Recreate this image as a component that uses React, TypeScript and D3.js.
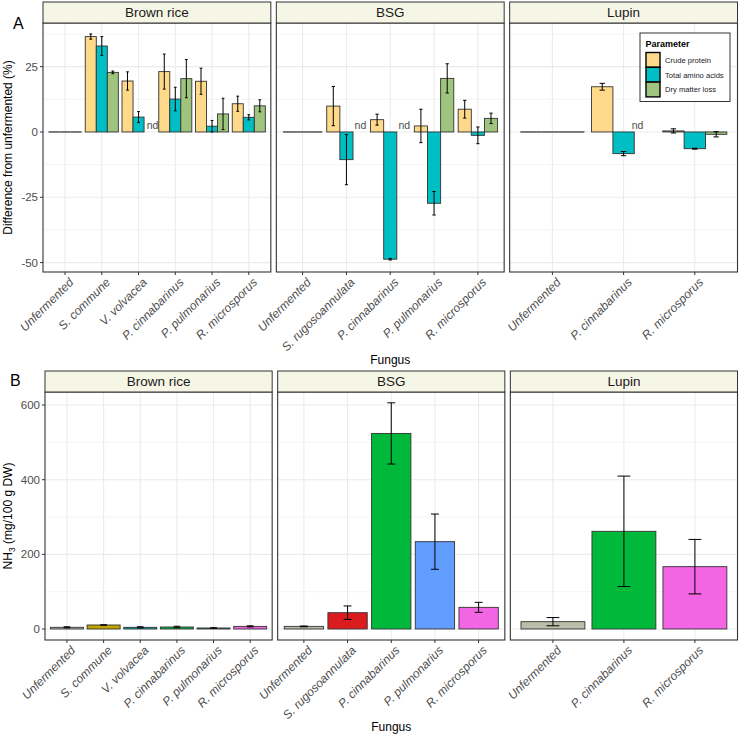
import React from "react";
import * as d3 from "d3";

// ---- Data ----
const substrates = ["Brown rice", "BSG", "Lupin"];
const parameters = ["Crude protein", "Total amino acids", "Dry matter loss"];
const parameterColors = ["#FFD98A", "#00BFC4", "#9EC47E"];

const brownRiceFungi = ["Unfermented", "S. commune", "V. volvacea", "P. cinnabarinus", "P. pulmonarius", "R. microsporus"];
const bsgFungi = ["Unfermented", "S. rugosoannulata", "P. cinnabarinus", "P. pulmonarius", "R. microsporus"];
const lupinFungi = ["Unfermented", "P. cinnabarinus", "R. microsporus"];

// Difference from unfermented (%), null = not determined
const brownRiceCrudeProtein = [0, 36.5, 19.5, 23.1, 19.4, 10.8];
const brownRiceCrudeProteinSd = [0, 1.0, 3.5, 6.7, 5.0, 2.9];
const brownRiceAminoAcids = [0, 32.9, 5.7, 12.6, 2.2, 5.6];
const brownRiceAminoAcidsSd = [0, 3.6, 2.1, 4.5, 2.2, 1.0];
const brownRiceDryMatterLoss = [0, 22.8, null, 20.4, 6.9, 10.0];
const brownRiceDryMatterLossSd = [0, 0.5, null, 7.3, 6.0, 2.3];

const bsgCrudeProtein = [0, 9.9, 4.7, 2.3, 8.7];
const bsgCrudeProteinSd = [0, 7.5, 2.1, 6.4, 3.4];
const bsgAminoAcids = [0, -10.6, -48.7, -27.3, -1.3];
const bsgAminoAcidsSd = [0, 9.6, 0.3, 4.5, 3.2];
const bsgDryMatterLoss = [0, null, null, 20.5, 5.2];
const bsgDryMatterLossSd = [0, null, null, 5.6, 2.0];

const lupinCrudeProtein = [0, 17.3, 0.4];
const lupinCrudeProteinSd = [0, 1.3, 0.8];
const lupinAminoAcids = [0, -8.3, -6.4];
const lupinAminoAcidsSd = [0, 0.8, 0.2];
const lupinDryMatterLoss = [0, null, -0.9];
const lupinDryMatterLossSd = [0, null, 1.0];

// NH3 (mg/100 g DW)
const brownRiceNH3 = [4.5, 10.7, 4.5, 5.3, 2.7, 7.0];
const brownRiceNH3Sd = [1.5, 0.5, 1.5, 2.0, 0.5, 1.5];
const bsgNH3 = [7, 43.7, 524, 234, 58];
const bsgNH3Sd = [1, 18, 82, 74, 13.4];
const lupinNH3 = [19.6, 261.7, 167];
const lupinNH3Sd = [11, 148, 73];

const fungusColors: Record<string, string> = {
  "Unfermented": "#BBBDA8",
  "S. commune": "#C2A500",
  "V. volvacea": "#00A6B4",
  "P. cinnabarinus": "#00B93A",
  "P. pulmonarius": "#619CFF",
  "R. microsporus": "#F266E3",
  "S. rugosoannulata": "#DA1C1F",
};

const yTicksA = [-50, -25, 0, 25];
const yMinorA = [-37.5, -12.5, 12.5, 37.5];
const yTicksB = [0, 200, 400, 600];
const yMinorB = [100, 300, 500];

type Facet = {
  name: string;
  fungi: string[];
  series: (number | null)[][];
  sds: (number | null)[][];
  nh3: number[];
  nh3Sd: number[];
};

const facets: Facet[] = [
  {
    name: substrates[0],
    fungi: brownRiceFungi,
    series: [brownRiceCrudeProtein, brownRiceAminoAcids, brownRiceDryMatterLoss],
    sds: [brownRiceCrudeProteinSd, brownRiceAminoAcidsSd, brownRiceDryMatterLossSd],
    nh3: brownRiceNH3,
    nh3Sd: brownRiceNH3Sd,
  },
  {
    name: substrates[1],
    fungi: bsgFungi,
    series: [bsgCrudeProtein, bsgAminoAcids, bsgDryMatterLoss],
    sds: [bsgCrudeProteinSd, bsgAminoAcidsSd, bsgDryMatterLossSd],
    nh3: bsgNH3,
    nh3Sd: bsgNH3Sd,
  },
  {
    name: substrates[2],
    fungi: lupinFungi,
    series: [lupinCrudeProtein, lupinAminoAcids, lupinDryMatterLoss],
    sds: [lupinCrudeProteinSd, lupinAminoAcidsSd, lupinDryMatterLossSd],
    nh3: lupinNH3,
    nh3Sd: lupinNH3Sd,
  },
];

// ---- Layout ----
const W = 740;
const H = 739;
const FONT = "'Liberation Sans', Arial, Helvetica, sans-serif";
const GRID = "#EBEBEB";
const BORDER = "#333333";
const TEXT = "#4D4D4D";
const STRIP_FILL = "#F6F6E6";
const RIGHT = 737.5;
const GAP = 5.5;

const A = { left: 43, top: 23, bottom: 272, stripTop: 2 };
const B = { left: 45, top: 392, bottom: 640, stripTop: 371 };

function panelXs(left: number) {
  const w = (RIGHT - left - 2 * GAP) / 3;
  return [0, 1, 2].map((i) => ({ x0: left + i * (w + GAP), x1: left + i * (w + GAP) + w }));
}

function Strip({ x0, x1, y0, y1, label }: { x0: number; x1: number; y0: number; y1: number; label: string }) {
  return (
    <g>
      <rect x={x0} y={y0} width={x1 - x0} height={y1 - y0} fill={STRIP_FILL} stroke={BORDER} strokeWidth={1} />
      <text x={(x0 + x1) / 2} y={(y0 + y1) / 2 + 4.8} textAnchor="middle" fontSize={13.5} fill="#1A1A1A" fontFamily={FONT}>
        {label}
      </text>
    </g>
  );
}

function XLabels({ xs, labels, y }: { xs: number[]; labels: string[]; y: number }) {
  return (
    <g>
      {labels.map((l, i) => (
        <g key={l}>
          <line x1={xs[i]} x2={xs[i]} y1={y} y2={y + 3} stroke={BORDER} strokeWidth={1} />
          <text
            transform={`translate(${xs[i] + 3},${y + 5}) rotate(-45)`}
            textAnchor="end"
            dy="0.72em"
            fontSize={12}
            fontStyle="italic"
            fill={TEXT}
            fontFamily={FONT}
          >
            {l}
          </text>
        </g>
      ))}
    </g>
  );
}

export default function App() {
  const pa = panelXs(A.left);
  const pb = panelXs(B.left);
  const yA = d3.scaleLinear().domain([-53.6, 41.7]).range([A.bottom, A.top]);
  const yB = d3.scaleLinear().domain([-29.5, 635]).range([B.bottom, B.top]);

  return (
    <svg
      width={W}
      height={H}
      style={{ display: "block", background: "#fff", position: "absolute", left: 0, top: 0 }}
      fontFamily={FONT}
    >
      <rect width={W} height={H} fill="#fff" />

      {/* ---------- Panel A ---------- */}
      <text x={13} y={29} fontSize={16} fill="#000">A</text>
      {facets.map((f, fi) => {
        const { x0, x1 } = pa[fi];
        const x = d3.scalePoint<string>().domain(f.fungi).range([x0, x1]).padding(0.6);
        const step = x.step();
        const dodge = d3.scaleBand<string>().domain(parameters).range([-0.45 * step, 0.45 * step]);
        const bw = dodge.bandwidth();
        return (
          <g key={f.name}>
            <rect x={x0} y={A.top} width={x1 - x0} height={A.bottom - A.top} fill="#fff" />
            {yMinorA.map((t) => (
              <line key={t} x1={x0} x2={x1} y1={yA(t)} y2={yA(t)} stroke={GRID} strokeWidth={0.55} />
            ))}
            {yTicksA.map((t) => (
              <line key={t} x1={x0} x2={x1} y1={yA(t)} y2={yA(t)} stroke={GRID} strokeWidth={1.1} />
            ))}
            {f.fungi.map((c) => (
              <line key={c} x1={x(c)!} x2={x(c)!} y1={A.top} y2={A.bottom} stroke={GRID} strokeWidth={1.1} />
            ))}
            {/* nd labels */}
            {f.fungi.map((c, ci) =>
              f.series[2][ci] === null ? (
                <text key={"nd" + c} x={x(c)! + 14} y={129} textAnchor="middle" fontSize={10.5} fill={TEXT}>
                  nd
                </text>
              ) : null
            )}
            {/* bars */}
            {f.fungi.map((c, ci) =>
              parameters.map((p, pi) => {
                const v = f.series[pi][ci];
                if (v === null) return null;
                const bx = x(c)! + dodge(p)!;
                if (v === 0) {
                  return (
                    <line key={c + p} x1={bx} x2={bx + bw} y1={yA(0)} y2={yA(0)} stroke="#5E5E5E" strokeWidth={1.6} />
                  );
                }
                const y0 = Math.min(yA(0), yA(v));
                const h = Math.abs(yA(0) - yA(v));
                return (
                  <rect key={c + p} x={bx} y={y0} width={bw} height={h} fill={parameterColors[pi]} stroke={BORDER} strokeWidth={0.9} />
                );
              })
            )}
            {/* error bars */}
            {f.fungi.map((c, ci) =>
              parameters.map((p, pi) => {
                const v = f.series[pi][ci];
                const sd = f.sds[pi][ci];
                if (v === null || sd === null || v === 0) return null;
                const cx = x(c)! + dodge(p)! + bw / 2;
                const cw = bw * 0.125;
                const yt = yA(v + sd);
                const yb = yA(v - sd);
                return (
                  <g key={"e" + c + p} stroke="#000" strokeWidth={1}>
                    <line x1={cx} x2={cx} y1={yt} y2={yb} />
                    <line x1={cx - cw} x2={cx + cw} y1={yt} y2={yt} />
                    <line x1={cx - cw} x2={cx + cw} y1={yb} y2={yb} />
                  </g>
                );
              })
            )}
            <rect x={x0} y={A.top} width={x1 - x0} height={A.bottom - A.top} fill="none" stroke={BORDER} strokeWidth={1.1} />
            <Strip x0={x0} x1={x1} y0={A.stripTop} y1={A.top} label={f.name} />
            <XLabels xs={f.fungi.map((c) => x(c)!)} labels={f.fungi} y={A.bottom} />
          </g>
        );
      })}
      {/* y axis A */}
      {yTicksA.map((t) => (
        <g key={t}>
          <line x1={A.left - 3} x2={A.left} y1={yA(t)} y2={yA(t)} stroke={BORDER} strokeWidth={1} />
          <text x={A.left - 5} y={yA(t) + 4} textAnchor="end" fontSize={11.5} fill={TEXT}>{t}</text>
        </g>
      ))}
      <text transform={`translate(12,${(A.top + A.bottom) / 2}) rotate(-90)`} textAnchor="middle" fontSize={12} fill="#000">
        Difference from unfermented (%)
      </text>
      <text x={(A.left + RIGHT) / 2} y={364} textAnchor="middle" fontSize={12} fill="#000">Fungus</text>

      {/* legend */}
      <g>
        <rect x={640} y={33} width={90} height={68.5} fill="#fff" stroke={BORDER} strokeWidth={1} />
        <text x={645.5} y={46.5} fontSize={9} fontWeight="bold" fill="#000">Parameter</text>
        {parameters.map((p, i) => (
          <g key={p}>
            <rect x={646} y={52.5 + i * 14.8} width={14} height={14.8} fill={parameterColors[i]} stroke="#000" strokeWidth={1.4} />
            <text x={665} y={62.8 + i * 14.8} fontSize={7.6} fill="#1A1A1A">{p}</text>
          </g>
        ))}
      </g>

      {/* ---------- Panel B ---------- */}
      <text x={10} y={386} fontSize={16} fill="#000">B</text>
      {facets.map((f, fi) => {
        const { x0, x1 } = pb[fi];
        const xc = d3.scalePoint<string>().domain(f.fungi).range([x0, x1]).padding(0.6);
        const step = xc.step();
        const bw = step * 0.9;
        return (
          <g key={f.name}>
            {yMinorB.map((t) => (
              <line key={t} x1={x0} x2={x1} y1={yB(t)} y2={yB(t)} stroke={GRID} strokeWidth={0.55} />
            ))}
            {yTicksB.map((t) => (
              <line key={t} x1={x0} x2={x1} y1={yB(t)} y2={yB(t)} stroke={GRID} strokeWidth={1.1} />
            ))}
            {f.fungi.map((c) => (
              <line key={c} x1={xc(c)!} x2={xc(c)!} y1={B.top} y2={B.bottom} stroke={GRID} strokeWidth={1.1} />
            ))}
            {f.fungi.map((c, ci) => {
              const v = f.nh3[ci];
              const bx = xc(c)! - bw / 2;
              return (
                <rect key={c} x={bx} y={yB(v)} width={bw} height={yB(0) - yB(v)} fill={fungusColors[c]} stroke={BORDER} strokeWidth={0.9} />
              );
            })}
            {f.fungi.map((c, ci) => {
              const v = f.nh3[ci];
              const sd = f.nh3Sd[ci];
              const cx = xc(c)!;
              const cw = bw * 0.1;
              const yt = yB(v + sd);
              const yb = yB(v - sd);
              return (
                <g key={"e" + c} stroke="#000" strokeWidth={1}>
                  <line x1={cx} x2={cx} y1={yt} y2={yb} />
                  <line x1={cx - cw} x2={cx + cw} y1={yt} y2={yt} />
                  <line x1={cx - cw} x2={cx + cw} y1={yb} y2={yb} />
                </g>
              );
            })}
            <rect x={x0} y={B.top} width={x1 - x0} height={B.bottom - B.top} fill="none" stroke={BORDER} strokeWidth={1.1} />
            <Strip x0={x0} x1={x1} y0={B.stripTop} y1={B.top} label={f.name} />
            <XLabels xs={f.fungi.map((c) => xc(c)!)} labels={f.fungi} y={B.bottom} />
          </g>
        );
      })}
      {yTicksB.map((t) => (
        <g key={t}>
          <line x1={B.left - 3} x2={B.left} y1={yB(t)} y2={yB(t)} stroke={BORDER} strokeWidth={1} />
          <text x={B.left - 5} y={yB(t) + 4} textAnchor="end" fontSize={11.5} fill={TEXT}>{t}</text>
        </g>
      ))}
      <text transform={`translate(12,${(B.top + B.bottom) / 2}) rotate(-90)`} textAnchor="middle" fontSize={12} fill="#000">
        NH<tspan fontSize={8.5} dy={3}>3</tspan>
        <tspan dy={-3}> (mg/100 g DW)</tspan>
      </text>
      <text x={(B.left + RIGHT) / 2} y={731} textAnchor="middle" fontSize={12} fill="#000">Fungus</text>
    </svg>
  );
}
